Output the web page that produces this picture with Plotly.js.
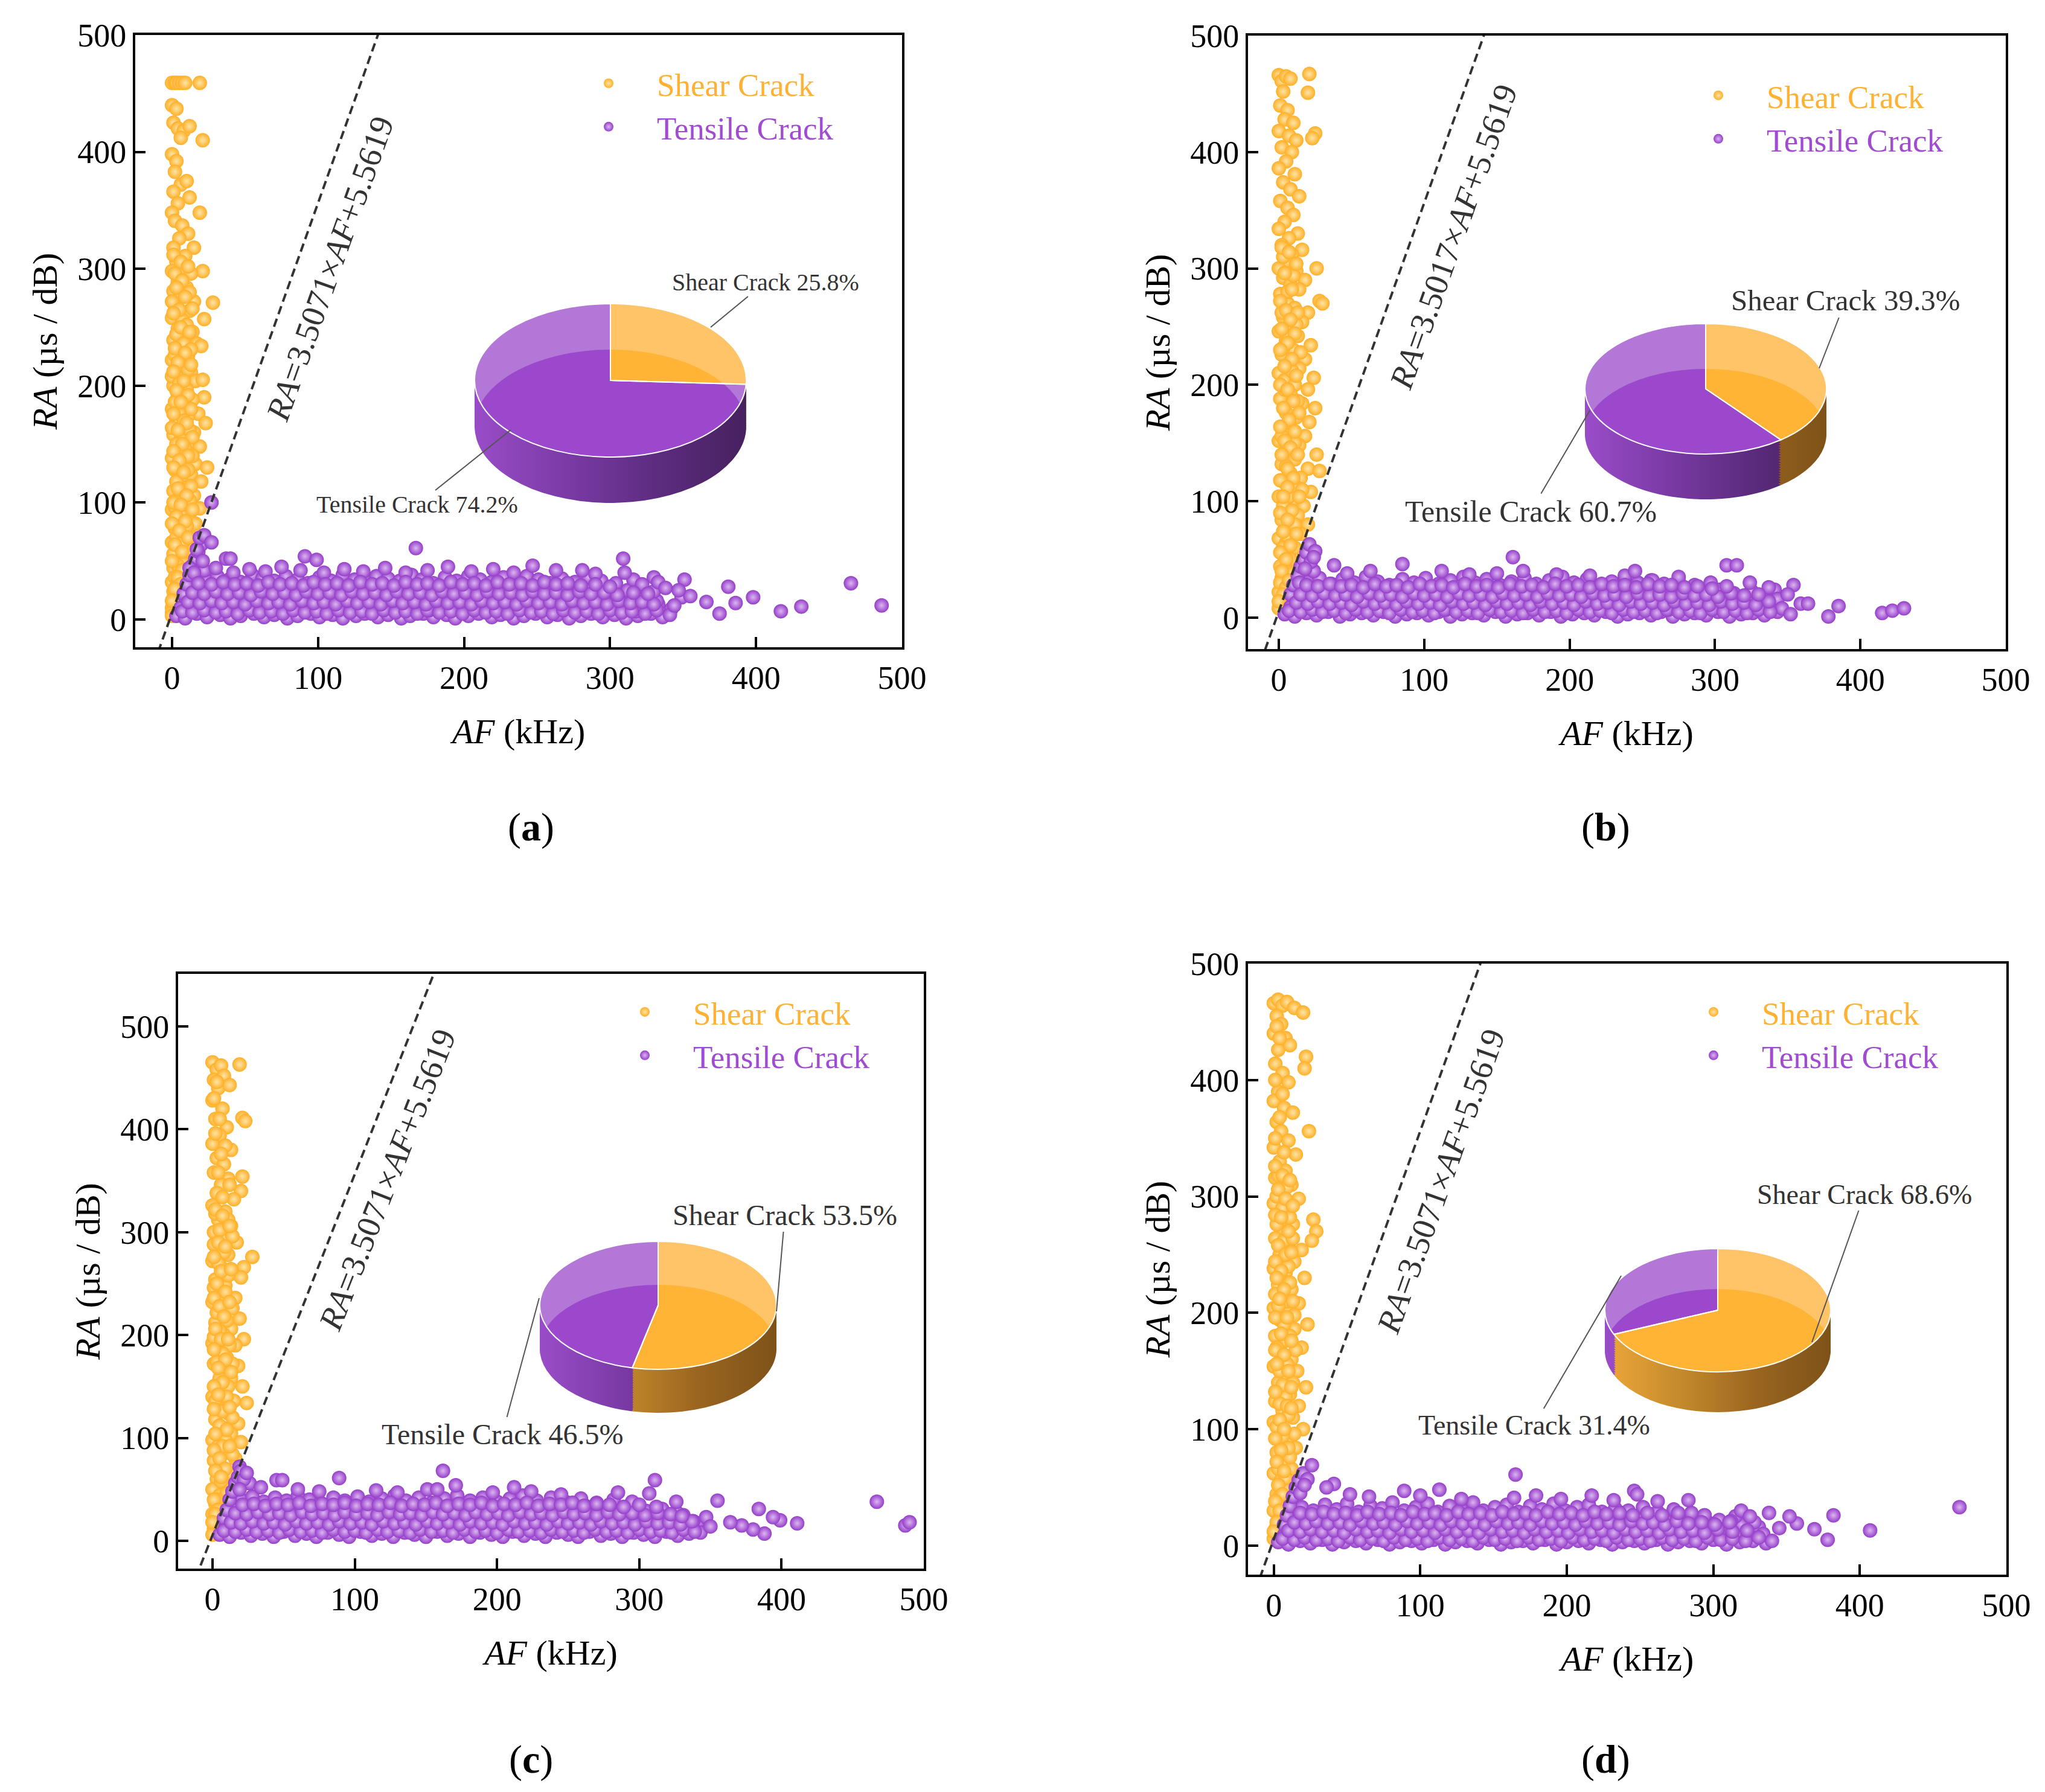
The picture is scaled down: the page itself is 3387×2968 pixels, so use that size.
<!DOCTYPE html>
<html>
<head>
<meta charset="utf-8">
<script src="https://cdn.plot.ly/plotly-3.0.1.min.js"></script>
<style>
  html, body { margin: 0; padding: 0; background: #fff; }
  #chart { width: 3387px; height: 2968px; }
</style>
</head>
<body>
<div id="chart"></div>
<script>
// [AF (kHz), RA (us/dB)]
const shearA = [[0,459],[2,459],[3,459],[5,459],[7,459],[9,459],[19,459],
  [0,440],[3,437],[1,425],[4,420],[8,418],[12,422],[21,410],[6,412],
  [0,398],[3,392],[2,383],[6,372],[10,375],[12,361],[1,366],[4,356],
  [0,348],[19,348],[2,341],[7,337],[11,330],[5,326],[15,318],[1,318],[9,311],[3,306],
  [0,298],[8,300],[21,298],[13,296],[4,289],[10,284],[1,281],[6,277],[28,271],[15,272],
  [2,268],[12,264],[0,258],[7,256],[22,257],[4,249],[14,246],[9,243],[1,239],[17,236],[20,234],[5,230],[11,226],
  [0,222],[8,219],[3,214],[13,211],[6,206],[16,204],[1,200],[10,197],[21,205],[4,192],[22,190],[14,188],[7,184],[0,180],
  [18,176],[11,174],[3,170],[23,168],[9,165],[15,160],[1,158],[6,154],[12,150],[19,148],[4,144],[0,138],[9,136],[16,133],[24,130],[2,128],[13,124],[6,120],
  [20,118],[10,113],[1,110],[15,106],[4,103],[8,98],[19,95],[0,94],[12,90],[5,85],[16,82],[2,78],[9,74],[14,70],[0,66],[6,62],[11,58],[3,54],[8,48],[1,44],[5,40],[9,40],[0,32],[3,28],[5,24],[1,18],[2,14],[0,10],[0,6],[0,3],
  [2,296],[7,290],[12,280],[0,272],[5,265],[10,252],[3,244],[8,236],[13,231],[2,226],[6,218],[11,214],[0,208],[5,202],[9,190],[2,186],[13,180],[5,176],[8,170],[0,164],[12,162],[3,150],[9,146],[14,140],[6,132],[11,128],[3,118],[7,110],[12,102],[2,96],[6,90],[10,80],[3,70],[7,66],[1,56],[4,46],[7,42],[2,36],[1,24],[3,20],
  [1,312],[6,306],[11,302],[3,284],[9,276],[14,266],[1,262],[6,250],[12,246],[2,232],[9,228],[4,220],[13,218],[1,212],[8,204],[3,196],[11,192],[6,186],[1,176],[10,168],[4,162],[14,156],[7,150],[1,144],[11,140],[5,136],[13,114],[1,130],[8,126],[4,112],[10,106],[1,100],[6,98],[14,94],[3,88],[9,84],[0,82],[5,76],[11,70],[2,64],[7,58],[0,50],[4,36],[6,30],[2,26],[0,16]];

const tensileA = [[3,3],[9,1],[17,5],[24,2],[33,4],[40,1],[47,3],[56,5],[63,2],[70,4],[79,1],[86,3],[95,5],[101,2],[110,4],[117,1],[126,3],[132,5],[141,2],[148,4],[157,1],[163,3],[172,5],[179,2],[188,4],[194,1],[203,3],[210,5],[219,2],[225,4],[234,1],[241,3],[249,5],[257,2],[264,4],[272,1],[280,3],[287,5],[295,2],[303,4],[311,1],[319,3],[328,5],[336,2],
  [6,10],[13,12],[21,9],[29,13],[37,8],[44,11],[52,14],[60,9],[67,12],[75,8],[83,13],[91,10],[98,14],[106,9],[114,12],[122,8],[129,11],[137,14],[145,9],[152,12],[160,10],[168,13],[176,8],[183,11],[191,14],[199,9],[206,12],[214,10],[222,13],[230,8],[237,11],[245,14],[253,9],[261,12],[268,10],[276,13],[284,8],[292,11],[299,14],[307,9],[316,12],[324,10],[333,13],[342,9],
  [9,19],[17,17],[25,21],[32,18],[40,22],[48,16],[56,20],[63,18],[71,22],[79,17],[87,19],[94,21],[102,16],[110,20],[118,18],[125,22],[133,17],[141,19],[149,21],[156,16],[164,20],[172,18],[180,22],[187,17],[195,19],[203,21],[210,16],[218,20],[226,18],[234,22],[241,17],[249,19],[257,21],[265,16],[272,20],[280,18],[288,22],[296,17],[305,20],[314,18],[323,21],[332,16],
  [12,27],[20,25],[28,29],[36,24],[44,28],[51,26],[59,30],[67,25],[75,27],[83,29],[90,24],[98,28],[106,26],[114,30],[121,25],[129,27],[137,29],[145,24],[153,28],[160,26],[168,30],[176,25],[184,27],[192,29],[199,24],[207,28],[215,26],[223,30],[230,25],[238,27],[246,29],[254,24],[262,28],[270,26],[278,25],[286,29],[295,24],[303,27],[312,25],[321,28],[330,24],
  [16,36],[24,33],[31,37],[39,34],[47,32],[55,38],[62,35],[70,33],[78,37],[86,34],[93,31],[101,36],[109,33],[117,38],[125,34],[133,32],[140,37],[148,35],[156,33],[164,38],[171,34],[179,31],[187,36],[195,33],[203,37],[211,34],[219,32],[227,36],[235,33],[243,37],[251,34],[259,31],[267,35],[276,32],[285,36],[294,33],[304,31],[316,34],
  [22,42],[30,44],[42,40],[53,43],[64,41],[75,45],[88,42],[104,40],[118,43],[131,41],[146,44],[160,40],[175,42],[189,45],[205,41],[220,43],[234,40],[247,46],[263,42],[281,42],[290,39],
  [8,22],[10,30],[12,38],[14,46],[16,52],[18,58],[20,64],[17,60],[12,44],[21,50],[15,40],[19,70],[22,72],
  [27,100],[27,66],[37,52],[40,52],[91,54],[99,51],[167,61],[309,52],[310,40],[330,36],[333,32],[341,4],[351,34],[349,19],[355,20],[366,15],[375,5],[381,28],[386,14],[398,19],[417,7],[431,11],[465,31],[486,12],
  [318,7],[326,16],[338,27],[344,12],[347,25],[322,30],
  [7,7],[14,6],[22,8],[30,6],[37,7],[45,5],[53,8],[60,6],[68,7],[76,5],[83,8],[91,6],[99,7],[106,5],[114,8],[122,6],[130,7],[137,5],[145,8],[153,6],[160,7],[168,5],[175,8],[183,6],[191,7],[199,5],[207,8],[215,6],[222,7],[230,5],[238,8],[246,6],[253,7],[261,5],[268,8],[276,6],[284,7],[292,5],[300,8],[308,6],[315,7],[324,5],[332,8],
  [11,15],[19,14],[27,16],[34,14],[42,15],[50,13],[58,16],[66,14],[73,15],[81,13],[89,16],[97,14],[104,15],[112,13],[120,16],[127,14],[135,15],[143,13],[151,16],[158,14],[166,15],[174,13],[181,16],[189,14],[197,15],[205,13],[212,16],[220,14],[228,15],[236,13],[243,16],[251,14],[259,15],[267,13],[274,16],[282,14],[290,15],[298,13],[306,16],[314,14],[322,15],[330,13],
  [14,23],[22,22],[30,24],[38,22],[46,23],[54,21],[61,24],[69,22],[77,23],[85,21],[92,24],[100,22],[108,23],[116,21],[123,24],[131,22],[139,23],[147,21],[154,24],[162,22],[170,23],[178,21],[185,24],[193,22],[201,23],[209,21],[216,24],[224,22],[232,23],[240,21],[247,24],[255,22],[263,23],[271,21],[279,24],[287,22],[296,23],[305,21],[316,23],[326,22],
  [18,31],[27,30],[35,32],[43,30],[51,31],[59,29],[66,32],[74,30],[82,31],[90,29],[97,32],[105,30],[113,31],[121,29],[129,32],[137,30],[144,31],[152,29],[160,32],[168,30],[175,31],[183,29],[191,32],[199,30],[207,31],[215,29],[223,32],[231,30],[239,31],[247,29],[255,32],[263,30],[271,31],[280,29],[290,30],[300,28]];

const shearB = [[0,466],[2,461],[5,465],[8,463],[21,467],[3,452],[20,451],[1,440],[6,436],[4,428],[10,425],[0,418],[7,414],[12,410],[25,416],[23,412],[2,404],[9,400],[5,392],[0,386],[11,381],[3,374],[8,368],[14,362],[1,358],[6,352],[10,346],[4,340],[0,334],[13,330],[7,326],[2,320],[16,316],[9,312],[5,306],[26,300],[12,298],[0,300],[3,292],[18,290],[8,286],[14,282],[1,278],[28,272],[30,270],[6,270],[11,266],[20,262],[3,258],[16,254],[9,250],[0,246],[13,242],[5,238],[22,234],[10,230],[2,226],[18,222],[7,218],[14,214],[0,210],[24,206],[4,204],[11,200],[20,196],[8,192],[1,188],[16,184],[25,180],[5,176],[12,172],[21,168],[3,164],[9,160],[18,156],[0,152],[14,148],[6,144],[26,140],[11,136],[2,132],[20,128],[8,124],[15,120],[28,126],[4,116],[12,112],[22,108],[0,104],[9,100],[17,96],[5,92],[13,88],[2,84],[20,80],[8,76],[15,72],[0,68],[5,64],[11,60],[3,54],[8,50],[1,44],[6,40],[2,34],[9,38],[4,28],[0,22],[2,16],[0,8],
  [3,310],[10,294],[6,280],[2,262],[12,252],[7,242],[3,232],[15,228],[9,212],[4,196],[13,186],[7,168],[2,156],[11,150],[5,130],[16,110],[7,104],[3,96],[11,80],[6,70],[3,60],[1,30],[5,26],
  [2,318],[7,314],[12,304],[4,296],[9,282],[1,272],[5,264],[13,262],[8,256],[2,248],[11,244],[6,236],[1,230],[9,222],[4,216],[12,208],[1,200],[6,196],[10,186],[3,180],[14,176],[7,170],[1,164],[11,160],[4,152],[8,146],[13,140],[2,140],[6,128],[10,120],[1,118],[14,104],[6,112],[3,104],[9,92],[1,90],[6,84],[12,72],[3,74],[8,62],[1,56],[5,50],[2,40],[7,32],[3,20],[0,14]];

const tensileB = [[4,3],[11,1],[19,4],[26,2],[34,5],[42,1],[49,3],[57,4],[65,2],[72,5],[80,1],[88,3],[95,4],[103,2],[110,5],[118,1],[126,3],[133,4],[141,2],[149,5],[156,1],[164,3],[171,4],[179,2],[187,5],[194,1],[202,3],[210,4],[217,2],[225,5],[233,1],[240,3],[248,4],[256,2],[263,5],[271,1],[279,3],[286,4],[294,2],[302,5],[310,1],[318,3],[326,4],[334,2],[343,5],
  [8,9],[15,11],[23,8],[30,12],[38,7],[46,10],[53,12],[61,8],[69,11],[76,7],[84,10],[92,12],[99,9],[107,11],[115,7],[122,10],[130,12],[138,8],[145,11],[153,7],[161,10],[168,12],[176,9],[184,11],[191,7],[199,10],[207,12],[214,8],[222,11],[230,7],[237,10],[245,12],[253,9],[260,11],[268,7],[276,10],[283,12],[291,8],[299,11],[307,7],[315,10],[323,12],[331,9],[340,11],
  [11,17],[19,15],[27,19],[35,14],[42,18],[50,16],[58,20],[65,15],[73,17],[81,19],[88,14],[96,18],[104,16],[111,20],[119,15],[127,17],[134,19],[142,14],[150,18],[157,16],[165,20],[173,15],[180,17],[188,19],[196,14],[203,18],[211,16],[219,20],[226,15],[234,17],[242,19],[249,14],[257,18],[265,16],[272,20],[280,15],[288,17],[296,19],[304,14],[313,18],[322,16],[332,19],
  [15,24],[23,22],[31,26],[38,23],[46,27],[54,21],[61,25],[69,23],[77,27],[84,22],[92,24],[100,26],[107,21],[115,25],[123,23],[130,27],[138,22],[146,24],[153,26],[161,21],[169,25],[176,23],[184,27],[192,22],[199,24],[207,26],[215,21],[222,25],[230,23],[238,27],[245,22],[253,24],[261,26],[268,21],[276,25],[285,23],[294,22],[303,24],[313,21],[325,23],
  [20,31],[28,34],[36,29],[44,33],[52,30],[60,35],[68,31],[76,28],[85,33],[93,30],[101,34],[110,29],[118,32],[127,35],[135,30],[143,33],[152,28],[160,31],[169,34],[177,29],[186,32],[195,35],[203,30],[212,33],[221,28],[229,31],[238,34],[247,30],[256,32],[265,29],[275,31],[286,28],[297,30],
  [24,40],[38,45],[47,38],[63,40],[85,46],[112,40],[131,37],[150,38],[168,40],[191,37],[214,36],[238,36],[245,40],[257,32],[275,35],[308,45],[315,45],[324,30],[341,24],[343,16],
  [8,20],[10,28],[13,36],[15,44],[17,50],[19,56],[21,63],[25,57],[22,48],[18,42],[14,30],[24,52],
  [161,52],[354,28],[359,12],[364,12],[378,1],[385,10],[415,4],[422,6],[430,8],[350,20],[346,8],[337,26],[330,14],[352,3],
  [7,6],[15,5],[23,7],[30,5],[38,6],[46,4],[53,7],[61,5],[69,6],[76,4],[84,7],[92,5],[99,6],[107,4],[114,7],[122,5],[130,6],[137,4],[145,7],[153,5],[160,6],[168,4],[175,7],[183,5],[191,6],[198,4],[206,7],[214,5],[221,6],[229,4],[237,7],[244,5],[252,6],[260,4],[267,7],[275,5],[283,6],[290,4],[298,7],[306,5],[314,6],[322,4],[330,7],[338,5],
  [12,13],[20,12],[27,14],[35,12],[43,13],[50,11],[58,14],[66,12],[73,13],[81,11],[88,14],[96,12],[104,13],[111,11],[119,14],[127,12],[134,13],[142,11],[150,14],[157,12],[165,13],[173,11],[180,14],[188,12],[196,13],[203,11],[211,14],[219,12],[226,13],[234,11],[242,14],[249,12],[257,13],[265,11],[272,14],[280,12],[288,13],[296,11],[304,14],[312,12],[320,13],[328,11],[337,14],
  [15,20],[23,19],[31,21],[39,19],[46,20],[54,18],[62,21],[70,19],[77,20],[85,18],[93,21],[100,19],[108,20],[116,18],[124,21],[131,19],[139,20],[147,18],[154,21],[162,19],[170,20],[178,18],[185,21],[193,19],[201,20],[208,18],[216,21],[224,19],[231,20],[239,18],[247,21],[255,19],[262,20],[270,18],[278,21],[286,19],[294,20],[302,18],[311,21],[320,19],[330,20],
  [19,28],[27,27],[35,29],[43,27],[50,28],[58,26],[66,29],[74,27],[81,28],[89,26],[97,29],[105,27],[112,28],[120,26],[128,29],[136,27],[143,28],[151,26],[159,29],[167,27],[174,28],[182,26],[190,29],[198,27],[206,28],[214,26],[222,29],[230,27],[238,28],[246,26],[254,29],[262,27],[270,28],[279,26],[288,27],[298,25],[308,27]];

const shearC = [[0,465],[3,458],[6,462],[19,463],[1,448],[8,452],[4,440],[12,443],[0,428],[7,420],[2,410],[21,411],[23,408],[10,402],[5,394],[0,386],[13,380],[3,372],[8,366],[1,358],[11,352],[21,354],[6,346],[20,340],[3,338],[15,332],[0,326],[9,320],[4,312],[13,306],[1,300],[7,294],[17,290],[3,284],[11,278],[28,276],[0,272],[22,266],[6,266],[14,260],[2,254],[20,256],[9,248],[4,240],[16,236],[0,232],[11,228],[6,220],[19,216],[2,212],[13,206],[8,200],[22,196],[0,192],[16,190],[4,184],[10,178],[1,172],[18,170],[7,164],[13,158],[3,152],[21,150],[9,144],[0,140],[15,136],[5,130],[24,134],[11,124],[2,118],[18,114],[7,110],[13,104],[0,98],[20,96],[4,92],[10,86],[16,80],[1,78],[6,72],[12,66],[3,60],[8,54],[0,50],[5,44],[2,36],[7,32],[0,26],[3,20],[1,12],[0,6],
  [3,446],[1,430],[5,410],[2,396],[9,384],[6,376],[4,358],[12,346],[7,334],[2,318],[11,312],[5,302],[14,296],[1,288],[8,280],[4,270],[11,258],[1,246],[7,238],[14,226],[3,222],[10,214],[5,204],[1,198],[12,190],[7,182],[3,174],[14,172],[5,158],[11,150],[2,136],[8,128],[14,120],[4,104],[9,98],[14,84],[6,58],[10,46],[3,40],
  [2,322],[7,316],[12,306],[4,290],[9,286],[1,276],[6,262],[13,264],[3,250],[9,242],[1,236],[5,228],[12,232],[8,218],[2,206],[6,196],[11,196],[1,186],[9,176],[4,168],[13,164],[7,154],[1,150],[10,140],[4,142],[7,126],[12,130],[1,128],[5,112],[10,108],[2,104],[7,92],[12,92],[1,88],[5,80],[9,70],[2,68],[6,62],[1,40],[4,30],[2,26],[0,18]];

const tensileC = [[5,6],[12,4],[20,8],[27,5],[35,7],[43,4],[50,9],[58,5],[66,7],[73,4],[81,8],[89,6],[96,4],[104,9],[112,5],[119,7],[127,4],[135,8],[142,6],[150,4],[158,9],[165,5],[173,7],[181,4],[188,8],[196,6],[204,4],[211,9],[219,5],[227,7],[234,4],[242,8],[250,6],[257,4],[265,9],[273,5],[280,7],[288,4],[296,8],[303,6],[311,4],[319,9],[327,5],[335,7],
  [9,14],[16,12],[24,16],[31,13],[39,17],[47,11],[54,15],[62,13],[70,17],[77,12],[85,14],[93,16],[100,11],[108,15],[116,13],[123,17],[131,12],[139,14],[146,16],[154,11],[162,15],[169,13],[177,17],[185,12],[192,14],[200,16],[208,11],[215,15],[223,13],[231,17],[238,12],[246,14],[254,16],[261,11],[269,15],[277,13],[284,17],[292,12],[300,14],[308,16],[316,11],[324,15],[333,13],[341,17],
  [12,22],[20,20],[28,24],[35,21],[43,25],[51,19],[58,23],[66,21],[74,26],[81,20],[89,22],[97,25],[104,19],[112,23],[120,21],[127,26],[135,20],[143,22],[150,25],[158,19],[166,23],[173,21],[181,26],[189,20],[196,22],[204,25],[212,19],[219,23],[227,21],[235,26],[242,20],[250,22],[258,25],[265,19],[273,23],[281,21],[288,26],[296,20],[305,22],[314,24],[323,20],[331,25],
  [16,31],[24,29],[32,33],[39,30],[47,34],[55,28],[62,32],[70,30],[78,35],[85,29],[93,31],[101,34],[108,28],[116,32],[124,30],[131,35],[139,29],[147,31],[154,34],[162,28],[170,32],[177,30],[185,35],[193,29],[200,31],[208,34],[216,28],[223,32],[231,30],[239,35],[246,29],[254,31],[262,34],[270,28],[278,32],[287,30],[296,33],[305,29],[316,31],[326,28],
  [20,40],[28,43],[36,38],[44,42],[52,39],[60,44],[68,40],[76,37],[85,42],[93,39],[102,43],[110,38],[119,41],[128,44],[136,39],[145,42],[154,37],[163,41],[172,44],[181,39],[190,42],[200,38],[209,41],[218,44],[228,39],[238,42],[248,38],[259,41],[270,37],[282,40],[295,38],
  [45,59],[49,59],[89,61],[26,56],[34,52],[60,50],[75,48],[115,49],[151,50],[158,50],[171,54],[212,52],[224,48],[245,45],[285,47],[307,46],[326,38],[197,47],[130,47],
  [8,22],[10,30],[12,40],[14,48],[16,56],[18,62],[19,72],[20,68],[22,60],[19,50],[24,66],
  [162,68],[311,59],[467,38],[487,15],[490,18],[411,17],[399,20],[394,23],[384,31],[388,7],[380,11],[372,15],[364,18],[355,39],[347,23],[343,8],[350,14],[338,19],
  [8,10],[16,9],[24,11],[31,9],[39,10],[47,8],[54,11],[62,9],[70,10],[77,8],[85,11],[93,9],[100,10],[108,8],[116,11],[123,9],[131,10],[139,8],[146,11],[154,9],[162,10],[169,8],[177,11],[185,9],[192,10],[200,8],[208,11],[215,9],[223,10],[231,8],[238,11],[246,9],[254,10],[261,8],[269,11],[277,9],[284,10],[292,8],[300,11],[308,9],[315,10],[323,8],[331,11],[339,9],
  [13,18],[20,17],[28,19],[36,17],[43,18],[51,16],[59,19],[66,17],[74,18],[82,16],[89,19],[97,17],[105,18],[112,16],[120,19],[128,17],[135,18],[143,16],[151,19],[158,17],[166,18],[174,16],[181,19],[189,17],[197,18],[204,16],[212,19],[220,17],[227,18],[235,16],[243,19],[250,17],[258,18],[266,16],[273,19],[281,17],[289,18],[297,16],[305,19],[313,17],[321,18],[329,16],[337,19],
  [16,27],[24,26],[32,28],[40,26],[47,27],[55,25],[63,28],[70,26],[78,27],[86,25],[93,28],[101,26],[109,27],[116,25],[124,28],[132,26],[139,27],[147,25],[155,28],[162,26],[170,27],[178,25],[185,28],[193,26],[201,27],[208,25],[216,28],[224,26],[231,27],[239,25],[247,28],[254,26],[262,27],[270,25],[278,28],[286,26],[295,27],[304,25],[313,27],[322,26],[330,24],
  [21,35],[29,36],[37,34],[45,36],[53,35],[61,37],[69,34],[77,36],[85,35],[93,37],[101,34],[109,36],[117,35],[125,37],[133,34],[141,36],[149,35],[157,37],[165,34],[173,36],[181,35],[189,37],[197,34],[205,36],[213,35],[221,37],[229,34],[237,36],[245,35],[253,37],[261,34],[270,36],[279,35],[289,33],[300,35],[312,33]];

const shearD = [[0,466],[3,469],[6,464],[9,467],[14,462],[2,455],[20,458],[5,448],[0,440],[8,436],[3,426],[11,430],[22,420],[1,414],[6,406],[21,410],[10,398],[3,390],[0,382],[7,376],[13,372],[2,364],[24,356],[5,356],[10,348],[0,342],[15,336],[4,330],[8,322],[1,316],[12,310],[5,302],[17,298],[0,294],[9,288],[3,282],[27,280],[13,276],[29,270],[6,272],[26,262],[1,264],[10,258],[19,254],[4,250],[14,244],[0,238],[8,234],[21,230],[3,224],[12,220],[6,214],[17,208],[0,204],[10,200],[4,194],[23,190],[14,186],[1,180],[8,176],[19,170],[5,166],[12,160],[0,154],[16,150],[7,146],[3,140],[22,136],[11,130],[1,124],[17,120],[6,116],[13,110],[0,106],[20,100],[4,96],[9,90],[15,84],[2,80],[7,72],[12,66],[0,62],[5,56],[9,48],[2,44],[6,36],[0,30],[3,22],[1,14],[0,6],
  [2,446],[4,436],[1,400],[6,388],[4,368],[1,350],[7,338],[3,318],[9,308],[2,300],[6,290],[11,282],[2,276],[7,262],[13,264],[3,244],[10,240],[6,228],[1,216],[9,210],[14,198],[3,206],[7,190],[11,180],[2,170],[15,168],[9,156],[4,150],[13,140],[8,128],[4,122],[10,112],[2,102],[14,96],[6,94],[11,76],[3,66],[8,58],[4,42],
  [1,326],[6,318],[11,314],[3,306],[8,298],[13,292],[1,284],[5,282],[10,270],[3,258],[8,250],[12,252],[1,244],[5,236],[11,226],[2,230],[7,220],[13,210],[4,212],[1,196],[9,196],[5,182],[12,176],[1,168],[7,164],[10,150],[2,156],[6,138],[12,136],[1,132],[9,120],[4,108],[12,118],[7,100],[1,92],[10,84],[5,82],[2,72],[7,64],[3,52],[6,44],[1,38],[4,30],[2,20],[0,12]];

const tensileD = [[3,3],[10,1],[18,4],[25,2],[33,5],[40,1],[48,3],[56,4],[63,2],[71,5],[79,1],[86,3],[94,4],[101,2],[109,5],[117,1],[124,3],[132,4],[139,2],[147,5],[155,1],[162,3],[170,4],[177,2],[185,5],[193,1],[200,3],[208,4],[215,2],[223,5],[231,1],[238,3],[246,4],[253,2],[261,5],[269,1],[276,3],[284,4],[292,2],[300,5],[309,1],[318,3],[327,4],[336,2],
  [7,9],[14,11],[22,8],[29,12],[37,7],[44,10],[52,12],[60,8],[67,11],[75,7],[83,10],[90,12],[98,9],[105,11],[113,7],[121,10],[128,12],[136,8],[143,11],[151,7],[159,10],[166,12],[174,9],[181,11],[189,7],[197,10],[204,12],[212,8],[219,11],[227,7],[235,10],[242,12],[250,9],[257,11],[265,7],[273,10],[280,12],[288,8],[297,11],[306,7],[315,10],[324,12],[334,9],
  [11,17],[18,15],[26,19],[34,14],[41,18],[49,16],[57,20],[64,15],[72,17],[80,19],[87,14],[95,18],[103,16],[110,20],[118,15],[126,17],[133,19],[141,14],[149,18],[156,16],[164,20],[172,15],[179,17],[187,19],[195,14],[202,18],[210,16],[218,20],[225,15],[233,17],[241,19],[248,14],[256,18],[264,16],[271,20],[279,15],[288,17],[298,19],[308,14],[319,18],[331,16],
  [15,24],[22,22],[30,26],[38,23],[45,27],[53,21],[61,25],[68,23],[76,28],[84,22],[91,24],[99,27],[107,21],[114,25],[122,23],[130,28],[137,22],[145,24],[153,27],[160,21],[168,25],[176,23],[183,28],[191,22],[199,24],[206,27],[214,21],[222,25],[229,23],[237,28],[245,22],[252,24],[260,27],[268,21],[276,25],[285,23],[294,26],[304,22],[315,25],
  [19,33],[27,30],[35,35],[43,31],[50,36],[58,29],[66,34],[74,32],[81,37],[89,30],[97,33],[105,36],[112,29],[120,34],[128,31],[136,37],[143,30],[151,33],[159,35],[167,29],[175,34],[183,31],[191,36],[199,30],[207,33],[215,35],[224,29],[233,32],[242,30],[252,33],[262,29],[273,31],[285,28],
  [41,53],[36,50],[52,44],[65,42],[89,47],[100,43],[113,48],[128,40],[164,41],[179,43],[196,40],[217,43],[232,39],[246,47],[248,44],[262,38],[283,39],[294,26],[298,9],[305,14],[319,30],[338,28],
  [7,18],[9,26],[11,34],[13,42],[15,50],[17,56],[20,62],[23,57],[26,69],[18,45],[21,52],
  [165,61],[468,33],[407,13],[378,5],[382,26],[369,14],[357,19],[352,25],[334,10],[328,20],[345,15],[340,4],[325,25],[312,21],
  [6,6],[14,5],[21,7],[29,5],[37,6],[44,4],[52,7],[59,5],[67,6],[75,4],[82,7],[90,5],[98,6],[105,4],[113,7],[120,5],[128,6],[136,4],[143,7],[151,5],[158,6],[166,4],[174,7],[181,5],[189,6],[196,4],[204,7],[212,5],[219,6],[227,4],[234,7],[242,5],[250,6],[257,4],[265,7],[272,5],[280,6],[288,4],[296,7],[305,5],[313,6],[322,4],[331,7],
  [10,13],[18,12],[25,14],[33,12],[41,13],[48,11],[56,14],[64,12],[71,13],[79,11],[87,14],[94,12],[102,13],[110,11],[117,14],[125,12],[133,13],[140,11],[148,14],[156,12],[163,13],[171,11],[178,14],[186,12],[194,13],[201,11],[209,14],[217,12],[224,13],[232,11],[240,14],[247,12],[255,13],[263,11],[270,14],[278,12],[286,13],[294,11],[303,14],[313,12],[323,13],
  [14,20],[22,19],[29,21],[37,19],[45,20],[52,18],[60,21],[68,19],[75,20],[83,18],[91,21],[98,19],[106,20],[114,18],[121,21],[129,19],[137,20],[144,18],[152,21],[160,19],[167,20],[175,18],[183,21],[190,19],[198,20],[206,18],[213,21],[221,19],[229,20],[236,18],[244,21],[252,19],[259,20],[267,18],[275,21],[283,19],[292,20],[301,18],[311,20],
  [18,28],[26,27],[34,29],[41,27],[49,28],[57,26],[64,29],[72,27],[80,28],[87,26],[95,29],[103,27],[110,28],[118,26],[126,29],[133,27],[141,28],[149,26],[156,29],[164,27],[172,28],[179,26],[187,29],[195,27],[203,28],[211,26],[219,29],[227,27],[236,28],[245,26],[255,28],[265,26],[276,28]];

const shearPct = [25.8, 39.3, 53.5, 68.6];
const tensilePct = [74.2, 60.7, 46.5, 31.4];
const fitSlope = 3.5071;
const fitIntercept = 5.5619;
const fitText = ['3.5071', '3.5017', '3.5071', '3.5071'];
const panelTags = ['a', 'b', 'c', 'd'];
const axisTicks = [0, 100, 200, 300, 400, 500];

const W = 3387, H = 2968;
const FONT = 'Liberation Serif';
const ORANGE = '#FFAF25', PURPLE = '#943DC9';
const ORANGE_TXT = '#FFB133', PURPLE_TXT = '#A04BD2';

// layout of each panel, in page pixels
const panels = [
  { shear: shearA, tensile: tensileA, box: [224, 1494, 58, 1072], xr: [-25.2, 500], yr: [-23.8, 500],
    leg: [1008, 174], eq: [108, 300], eqAngle: -70.4,
    pie: { cx: 1011, cy: 630, rx: 225, ry: 127, depth: 76 },
    labS: [1268, 467, 1177, 542, 40], labT: [691, 836, 846, 712, 40], tag: [879, 1370] },
  { shear: shearB, tensile: tensileB, box: [2067, 3322, 59, 1075], xr: [-21.2, 500], yr: [-27, 500],
    leg: [2846, 194], eq: [120, 327], eqAngle: -70.4,
    pie: { cx: 2825, cy: 644, rx: 200, ry: 108, depth: 75 },
    labS: [3057, 497, 3013, 610, 49], labT: [2535, 847, 2633, 680, 50], tag: [2659, 1370] },
  { shear: shearC, tensile: tensileC, box: [295, 1530, 1613, 2598], xr: [-24.2, 500], yr: [-27, 551],
    leg: [1068, 1712], eq: [123, 351], eqAngle: -68.5,
    pie: { cx: 1090, cy: 2162, rx: 196, ry: 106, depth: 72 },
    labS: [1300, 2012, 1286, 2172, 48], labT: [832, 2375, 893, 2150, 48], tag: [879, 2914] },
  { shear: shearD, tensile: tensileD, box: [2067, 3323, 1596, 2608], xr: [-17.6, 500], yr: [-25, 500],
    leg: [2838, 1712], eq: [114, 313], eqAngle: -70.3,
    pie: { cx: 2845, cy: 2170, rx: 187, ry: 102, depth: 67 },
    labS: [3088, 1978, 3001, 2223, 46], labT: [2541, 2360, 2685, 2113, 46], tag: [2659, 2914] }
];

// side shading of the pie cylinders, left to right
const sideShade = {
  shear: ['#EDA73A', '#C58A2C', '#9A6520', '#7E5218'],
  tensile: ['#9A4CC8', '#7B3BA6', '#5D2C80', '#46215F']
};

const SIDE_LAYERS = 18;
const data = [];
const pieInfo = [];
const layout = {
  width: W, height: H, margin: { l: 0, r: 0, t: 0, b: 0 },
  paper_bgcolor: '#fff', plot_bgcolor: '#fff',
  font: { family: FONT, color: '#000' },
  showlegend: true, annotations: []
};

panels.forEach(function (p, i) {
  const s = i ? String(i + 1) : '';
  const xa = 'x' + s, ya = 'y' + s, legKey = 'legend' + s;

  layout['xaxis' + s] = {
    domain: [p.box[0] / W, p.box[1] / W], range: p.xr, anchor: ya,
    showline: true, mirror: true, linecolor: '#000', linewidth: 4,
    ticks: 'inside', ticklen: 17, tickwidth: 4, tickcolor: '#000', tickvals: axisTicks,
    tickfont: { family: FONT, size: 54, color: '#000' }, showgrid: false, zeroline: false,
    title: { text: '<i>AF</i> (kHz)', font: { family: FONT, size: 58, color: '#000' }, standoff: 40 }
  };
  layout['yaxis' + s] = {
    domain: [1 - p.box[3] / H, 1 - p.box[2] / H], range: p.yr, anchor: xa,
    showline: true, mirror: true, linecolor: '#000', linewidth: 4,
    ticks: 'inside', ticklen: 17, tickwidth: 4, tickcolor: '#000', tickvals: axisTicks,
    tickfont: { family: FONT, size: 54, color: '#000' }, showgrid: false, zeroline: false,
    title: { text: '<i>RA</i> (µs / dB)', font: { family: FONT, size: 58, color: '#000' }, standoff: 16 }
  };
  layout[legKey] = {
    x: (p.leg[0] - 80) / W, y: 1 - p.leg[1] / H, xanchor: 'left', yanchor: 'middle',
    bgcolor: 'rgba(0,0,0,0)', borderwidth: 0, itemwidth: 150,
    font: { family: FONT, size: 53 }
  };

  data.push({
    type: 'scatter', mode: 'markers', xaxis: xa, yaxis: ya, legend: legKey,
    name: '<span style="color:' + ORANGE_TXT + '">Shear Crack</span>',
    x: p.shear.map(d => d[0]), y: p.shear.map(d => d[1]),
    marker: { size: 24, color: ORANGE, gradient: { type: 'radial', color: '#FFE4A6' }, line: { width: 0 } },
    hoverinfo: 'skip'
  });
  data.push({
    type: 'scatter', mode: 'markers', xaxis: xa, yaxis: ya, legend: legKey,
    name: '<span style="color:' + PURPLE_TXT + '">Tensile Crack</span>',
    x: p.tensile.map(d => d[0]), y: p.tensile.map(d => d[1]),
    marker: { size: 24, color: PURPLE, gradient: { type: 'radial', color: '#DDB6F2' }, line: { width: 0 } },
    hoverinfo: 'skip'
  });
  const yEnds = [-60, 620];
  data.push({
    type: 'scatter', mode: 'lines', xaxis: xa, yaxis: ya, showlegend: false, hoverinfo: 'skip',
    x: yEnds.map(v => (v - fitIntercept) / fitSlope), y: yEnds,
    line: { color: '#333', width: 4, dash: '14px,8px' }
  });

  // 3D pie: stacked pies squashed vertically after drawing
  const q = p.pie;
  const dom = {
    x: [(q.cx - q.rx) / W, (q.cx + q.rx) / W],
    y: [1 - (q.cy + q.rx) / H, 1 - (q.cy - q.rx) / H]
  };
  function pie(colors, lineColor, lineWidth) {
    return {
      type: 'pie', values: [shearPct[i], tensilePct[i]], labels: ['Shear Crack', 'Tensile Crack'],
      sort: false, direction: 'clockwise', rotation: 0, textinfo: 'none', hoverinfo: 'none',
      showlegend: false, domain: dom,
      marker: { colors: colors, line: { color: lineColor, width: lineWidth } }
    };
  }
  for (let k = SIDE_LAYERS; k >= 1; k--) {
    data.push(pie(['#A66C22', '#6E3592'], '#fff', 0));
    pieInfo.push({ q: q, off: q.depth * k / SIDE_LAYERS, role: 'side', panel: i });
  }
  data.push(pie(['#FFC467', '#B377D8'], '#fff', 0));
  pieInfo.push({ q: q, off: 0, role: 'top', panel: i });
  data.push(pie(['#FFB436', '#9C48CD'], '#fff', 0));
  pieInfo.push({ q: q, off: 0, role: 'ghost', panel: i });
  data.push(pie(['rgba(0,0,0,0)', 'rgba(0,0,0,0)'], '#fff', 2));
  pieInfo.push({ q: q, off: 0, role: 'edge', panel: i });

  const ann = layout.annotations;
  ann.push({
    xref: xa, yref: ya, x: p.eq[0], y: p.eq[1], showarrow: false, textangle: p.eqAngle,
    xanchor: 'center', yanchor: 'middle',
    text: '<i>RA</i>=' + fitText[i] + '×<i>AF</i>+5.5619',
    font: { family: FONT, size: 55, color: '#333' }
  });
  [[p.labS, 'Shear Crack ' + shearPct[i] + '%'], [p.labT, 'Tensile Crack ' + tensilePct[i] + '%']].forEach(function (l) {
    const a = l[0];
    ann.push({
      xref: 'paper', yref: 'paper', x: a[2] / W, y: 1 - a[3] / H, ax: a[0] - a[2], ay: a[1] - a[3],
      showarrow: true, arrowhead: 0, arrowwidth: 2, arrowcolor: '#555', standoff: 0, startstandoff: 0,
      text: l[1], font: { family: FONT, size: a[4], color: '#333' }
    });
  });
  ann.push({
    xref: 'paper', yref: 'paper', x: p.tag[0] / W, y: 1 - p.tag[1] / H, showarrow: false,
    xanchor: 'center', yanchor: 'middle',
    text: '(<b>' + panelTags[i] + '</b>)', font: { family: FONT, size: 66, color: '#000' }
  });
});

const gd = document.getElementById('chart');
Plotly.newPlot(gd, data, layout, { staticPlot: true }).then(function () {
  const NS = 'http://www.w3.org/2000/svg';
  const defs = gd.querySelector('svg.main-svg defs');
  function shadeGradient(id, q, stops) {
    const lg = document.createElementNS(NS, 'linearGradient');
    lg.setAttribute('id', id);
    lg.setAttribute('gradientUnits', 'userSpaceOnUse');
    lg.setAttribute('x1', q.cx - q.rx); lg.setAttribute('x2', q.cx + q.rx);
    lg.setAttribute('y1', 0); lg.setAttribute('y2', 0);
    stops.forEach(function (c, n) {
      const st = document.createElementNS(NS, 'stop');
      st.setAttribute('offset', n / (stops.length - 1));
      st.setAttribute('stop-color', c);
      lg.appendChild(st);
    });
    defs.appendChild(lg);
  }
  panels.forEach(function (p, i) {
    shadeGradient('sideS' + i, p.pie, sideShade.shear);
    shadeGradient('sideT' + i, p.pie, sideShade.tensile);
  });
  const groups = gd.querySelectorAll('.pielayer .trace');
  groups.forEach(function (g, n) {
    const info = pieInfo[n];
    if (!info) return;
    const q = info.q, k = q.ry / q.rx;
    g.setAttribute('transform', 'translate(0,' + (q.cy + info.off) + ') scale(1,' + k + ') translate(0,' + (-q.cy) + ')');
    if (info.role === 'side') {
      const paths = g.querySelectorAll('path.surface');
      if (paths[0]) paths[0].style.fill = 'url(#sideS' + info.panel + ')';
      if (paths[1]) paths[1].style.fill = 'url(#sideT' + info.panel + ')';
    }
    if (info.role === 'ghost') {
      const id = 'pieclip' + n;
      const cp = document.createElementNS(NS, 'clipPath');
      cp.setAttribute('id', id);
      const c = document.createElementNS(NS, 'circle');
      c.setAttribute('cx', q.cx);
      c.setAttribute('cy', q.cy + q.depth / k);
      c.setAttribute('r', q.rx);
      cp.appendChild(c);
      defs.appendChild(cp);
      g.setAttribute('clip-path', 'url(#' + id + ')');
    }
    if (info.role === 'edge') {
      g.querySelectorAll('path').forEach(function (pth) { pth.style.vectorEffect = 'non-scaling-stroke'; });
    }
  });
});
</script>
</body>
</html>
